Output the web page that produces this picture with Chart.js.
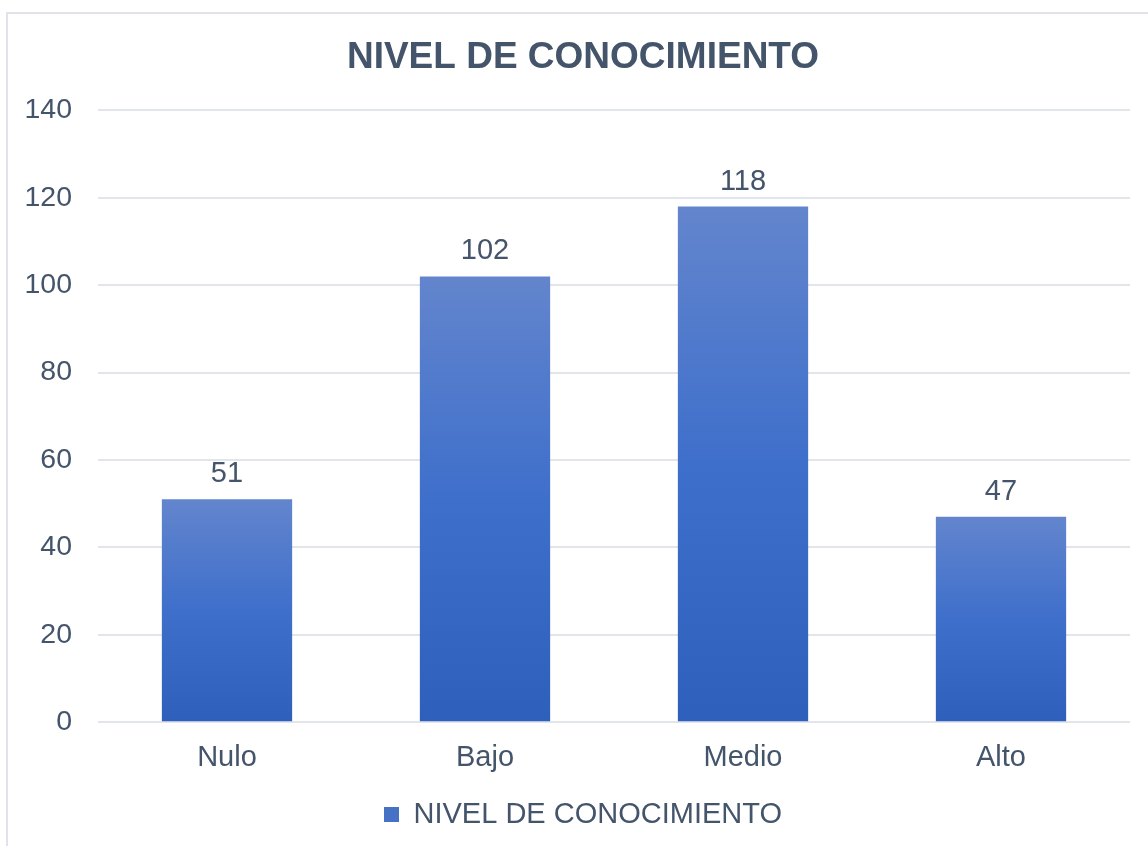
<!DOCTYPE html>
<html lang="es">
<head>
  <meta charset="UTF-8" />
  <title>Nivel de conocimiento</title>
  <script src="https://cdn.jsdelivr.net/npm/chart.js"></script>
  <style>
    html, body { margin: 0; padding: 0; background: #fff; overflow: hidden; }
    #frame { position: absolute; left: 6px; top: 12px; width: 1300px; height: 1000px; border: 2px solid #E0E4E9; }
    #wrap { position: absolute; left: 0; top: 0; width: 1166px; height: 846px; }
  </style>
</head>
<body>
  <div id="frame"></div>
  <div id="wrap"><canvas id="chartCanvas" width="1166" height="846"></canvas></div>

  <script>
    const labels = ['Nulo', 'Bajo', 'Medio', 'Alto'];
    const values = [51, 102, 118, 47];
    const yTicks = [0, 20, 40, 60, 80, 100, 120, 140];
    const seriesName = 'NIVEL DE CONOCIMIENTO';
    const chartTitle = 'NIVEL DE CONOCIMIENTO';

    const textColor = '#44546A';
    const fontFamily = '"Liberation Sans", Arial, sans-serif';

    // vertical gradient per bar, light at the top and darker at the base
    function barFill(ctx) {
      const chart = ctx.chart;
      const y = chart.scales && chart.scales.y;
      if (!chart.chartArea || !y || ctx.raw === undefined) return '#4672C6';
      const top = y.getPixelForValue(ctx.raw);
      const bottom = y.getPixelForValue(0);
      const g = chart.ctx.createLinearGradient(0, top, 0, bottom);
      g.addColorStop(0, '#6385CD');
      g.addColorStop(0.5, '#3E6FCB');
      g.addColorStop(1, '#2E5FBA');
      return g;
    }

    const valueLabels = {
      id: 'valueLabels',
      afterDatasetsDraw(chart) {
        const ctx = chart.ctx;
        const meta = chart.getDatasetMeta(0);
        ctx.save();
        ctx.font = '29px ' + fontFamily;
        ctx.fillStyle = textColor;
        ctx.textAlign = 'center';
        ctx.textBaseline = 'alphabetic';
        meta.data.forEach((bar, i) => {
          ctx.fillText(String(values[i]), bar.x, bar.y - 17);
        });
        ctx.restore();
      }
    };

    new Chart(document.getElementById('chartCanvas'), {
      type: 'bar',
      data: {
        labels: labels,
        datasets: [{
          label: seriesName,
          data: values,
          backgroundColor: barFill,
          borderWidth: 0,
          categoryPercentage: 1,
          barPercentage: 0.505
        }]
      },
      options: {
        responsive: false,
        animation: false,
        layout: { padding: { left: 0, right: 0, top: 0, bottom: 7 } },
        plugins: {
          title: {
            display: true,
            text: chartTitle,
            color: textColor,
            font: { family: fontFamily, size: 37, weight: 'bold', lineHeight: 1.2 },
            padding: { top: 36, bottom: 30 }
          },
          legend: {
            display: true,
            position: 'bottom',
            labels: {
              color: textColor,
              font: { family: fontFamily, size: 29 },
              boxWidth: 15,
              boxHeight: 15,
              padding: 15,
              generateLabels: () => [{
                text: seriesName,
                fillStyle: '#4672C6',
                strokeStyle: '#4672C6',
                lineWidth: 0,
                fontColor: textColor
              }]
            }
          },
          tooltip: { enabled: false }
        },
        scales: {
          x: {
            grid: { display: false },
            border: { display: false },
            ticks: {
              color: textColor,
              font: { family: fontFamily, size: 29 },
              padding: 10
            }
          },
          y: {
            min: 0,
            max: 140,
            afterBuildTicks: (scale) => { scale.ticks = yTicks.map(v => ({ value: v })); },
            afterFit: (scale) => { scale.width = 98; },
            grid: { color: '#E2E5EA', lineWidth: 2, drawTicks: false },
            border: { display: false },
            ticks: {
              color: textColor,
              font: { family: fontFamily, size: 28.5 },
              padding: 26
            }
          },
          // empty right-hand axis: keeps the plot edge at the same place as the original
          spacer: {
            type: 'linear',
            position: 'right',
            afterFit: (scale) => { scale.width = 36; },
            grid: { display: false },
            border: { display: false },
            ticks: { display: false }
          }
        }
      },
      plugins: [valueLabels]
    });
  </script>
</body>
</html>
